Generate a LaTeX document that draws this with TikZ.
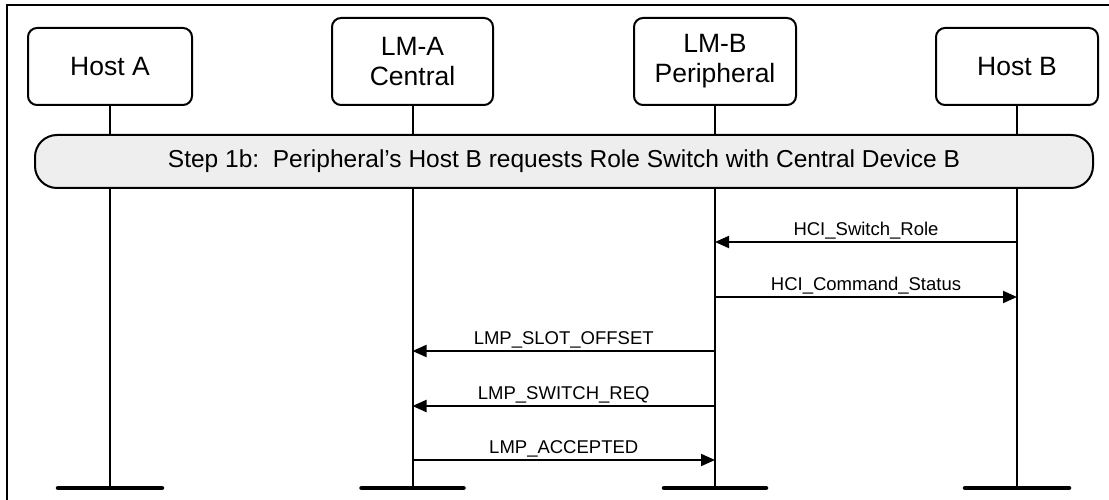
\documentclass[tikz,border=0pt]{standalone}
\usepackage{fontspec}
\setmainfont{Liberation Sans}
\usetikzlibrary{arrows.meta}
\tikzset{
  actor/.style={draw, line width=2pt, rounded corners=9pt, fill=white, align=center,
    font=\fontsize{26.5}{30}\selectfont, inner sep=0pt},
  stepbar/.style={draw, line width=2pt, rounded corners=22pt, fill=stepgray,
    minimum width=1058pt, minimum height=53pt, inner sep=0pt, font=\fontsize{24.5}{28}\selectfont},
  lifeline/.style={line width=2pt},
  endbar/.style={line width=4.5pt, line cap=round},
  msg/.style={line width=2pt, -{Triangle[length=14pt,width=12pt]}},
  msglabel/.style={font=\fontsize{18.5}{20}\selectfont, anchor=base, yshift=7pt, inner sep=0pt},
}
\definecolor{stepgray}{RGB}{238,238,238}
\begin{document}
\begin{tikzpicture}[x=1pt,y=-1pt]
\useasboundingbox (0,0) rectangle (1109,500);
\begin{scope}
\clip (0,0) rectangle (1109,500);
\draw[line width=2pt] (7,5) rectangle (1130,520);
\end{scope}
% actors
\node[actor, minimum width=164pt, minimum height=77pt] (hA) at (110,66.5) {Host A};
\node[actor, minimum width=161pt, minimum height=87pt] (lA) at (412.5,61.5) {LM-A\\Central};
\node[actor, minimum width=162pt, minimum height=87pt] (lB) at (715,61.5) {LM-B\\Peripheral};
\node[actor, minimum width=162pt, minimum height=77pt] (hB) at (1017,66.5) {Host B};
% end coordinates
\coordinate (yend) at (0,488);
\coordinate (eA) at (hA.south |- yend);
\coordinate (eLA) at (lA.south |- yend);
\coordinate (eLB) at (lB.south |- yend);
\coordinate (eB) at (hB.south |- yend);
% lifelines
\draw[lifeline] (hA.south) -- (eA);
\draw[lifeline] (lA.south) -- (eLA);
\draw[lifeline] (lB.south) -- (eLB);
\draw[lifeline] (hB.south) -- (eB);
% end bars
\draw[endbar] ([xshift=-52pt]eA) -- ([xshift=52pt]eA);
\draw[endbar] ([xshift=-51pt]eLA) -- ([xshift=51pt]eLA);
\draw[endbar] ([xshift=-51pt]eLB) -- ([xshift=51pt]eLB);
\draw[endbar] ([xshift=-52pt]eB) -- ([xshift=52pt]eB);
% step bar
\node[stepbar] (step) at (564,161.5) {Step 1b:\ \ Peripheral’s Host B requests Role Switch with Central Device B};
% messages
\coordinate (m1) at (0,242);
\coordinate (m2) at (0,297);
\coordinate (m3) at (0,351);
\coordinate (m4) at (0,406);
\coordinate (m5) at (0,460);
\draw[msg] (hB.south |- m1) -- node[msglabel]{HCI\_Switch\_Role} (lB.south |- m1);
\draw[msg] (lB.south |- m2) -- node[msglabel]{HCI\_Command\_Status} (hB.south |- m2);
\draw[msg] (lB.south |- m3) -- node[msglabel]{LMP\_SLOT\_OFFSET} (lA.south |- m3);
\draw[msg] (lB.south |- m4) -- node[msglabel]{LMP\_SWITCH\_REQ} (lA.south |- m4);
\draw[msg] (lA.south |- m5) -- node[msglabel]{LMP\_ACCEPTED} (lB.south |- m5);
\end{tikzpicture}
\end{document}
